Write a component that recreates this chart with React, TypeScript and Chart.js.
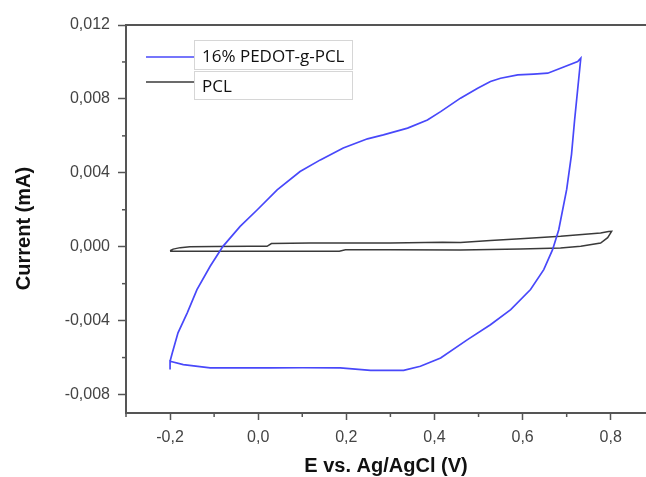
import { useEffect, useRef } from 'react';
import { Chart, registerables } from 'chart.js';

Chart.register(...registerables);

// 16% PEDOT-g-PCL cyclic voltammogram (E in V, I in mA)
const pedotE = [
  -0.2, -0.2, -0.17, -0.109, -0.05, 0.027, 0.1, 0.186, 0.255, 0.33, 0.368, 0.414, 0.475, 0.527,
  0.573, 0.618, 0.648, 0.668, 0.682, 0.7, 0.711, 0.718, 0.732,
  0.725, 0.686, 0.657, 0.625, 0.589, 0.55, 0.527, 0.498, 0.459, 0.414, 0.384, 0.339, 0.284,
  0.248, 0.193, 0.141, 0.095, 0.043, -0.002, -0.041, -0.08, -0.109, -0.139, -0.161, -0.182,
  -0.195, -0.2,
];
const pedotI = [
  -0.00665, -0.0062, -0.00638, -0.00656, -0.00656, -0.00656, -0.00655, -0.00656, -0.00669,
  -0.00669, -0.00647, -0.00602, -0.00503, -0.00422, -0.00341, -0.00232, -0.00124, -0.00016,
  0.00092, 0.0031, 0.005, 0.00686, 0.0102,
  0.01002, 0.00966, 0.00939, 0.00934, 0.0093, 0.00912, 0.00894, 0.00858, 0.00804, 0.00731,
  0.00686, 0.00642, 0.00605, 0.00584, 0.00534, 0.0047, 0.00407, 0.00308, 0.002, 0.0011,
  0.00002, -0.00106, -0.00232, -0.00358, -0.00466, -0.00575, -0.0062,
];

// PCL cyclic voltammogram
const pclE = [
  -0.2, -0.15, -0.018, 0.1, 0.184, 0.198, 0.3, 0.459, 0.595, 0.686, 0.732, 0.777, 0.793, 0.802,
  0.795, 0.777, 0.686, 0.595, 0.527, 0.459, 0.418, 0.3, 0.118, 0.03, 0.02, -0.018, -0.1, -0.155,
  -0.177, -0.193, -0.2,
];
const pclI = [
  -0.00024, -0.00025, -0.00025, -0.00025, -0.00025, -0.00017, -0.00017, -0.00018, -0.00012,
  -0.00007, 0.00002, 0.0002, 0.00049, 0.00083,
  0.00082, 0.00074, 0.00056, 0.00043, 0.00034, 0.00023, 0.00024, 0.0002, 0.0002, 0.00017,
  0.00002, 0.00002, 0.00001, 0, -0.00005, -0.00013, -0.00022,
];

const seriesLabels = ['16% PEDOT-g-PCL', 'PCL'];
const seriesColors = ['#4848fa', '#3a3a3a'];
const xMajorTicks = [-0.2, 0, 0.2, 0.4, 0.6, 0.8];
const xMinorTicks = [-0.3, -0.1, 0.1, 0.3, 0.5, 0.7];
const yMajorTicks = [-0.008, -0.004, 0, 0.004, 0.008, 0.012];
const yMinorTicks = [-0.006, -0.002, 0.002, 0.006, 0.01];
const xTitle = 'E vs. Ag/AgCl (V)';
const yTitle = 'Current (mA)';

const AXIS = '#555555';
const SANS = '"Liberation Sans", Arial, sans-serif';

const fmt = (v: number, d: number) => Number(v).toFixed(d).replace('.', ',');

const decorPlugin = {
  id: 'decor',
  afterDraw(chart: any) {
    const ctx = chart.ctx as CanvasRenderingContext2D;
    const { left, right, top, bottom } = chart.chartArea;
    const xs = chart.scales.x;
    const ys = chart.scales.y;
    ctx.save();
    // top frame line
    ctx.strokeStyle = AXIS;
    ctx.lineWidth = 2;
    ctx.beginPath();
    ctx.moveTo(left - 1, top);
    ctx.lineTo(right, top);
    ctx.stroke();
    // minor ticks
    ctx.lineWidth = 1.5;
    xMinorTicks.forEach((v) => {
      const px = xs.getPixelForValue(v);
      ctx.beginPath();
      ctx.moveTo(px, bottom);
      ctx.lineTo(px, bottom + 4);
      ctx.stroke();
    });
    yMinorTicks.forEach((v) => {
      const py = ys.getPixelForValue(v);
      ctx.beginPath();
      ctx.moveTo(left, py);
      ctx.lineTo(left - 4, py);
      ctx.stroke();
    });
    // legend
    const boxes = [
      { y: 40.5, h: 29, lineY: 57, textY: 62 },
      { y: 71.5, h: 28, lineY: 82, textY: 92 },
    ];
    boxes.forEach((b, i) => {
      ctx.strokeStyle = '#d6d6d6';
      ctx.lineWidth = 1;
      ctx.strokeRect(194.5, b.y, 158, b.h);
      ctx.strokeStyle = seriesColors[i];
      ctx.lineWidth = 1.6;
      ctx.beginPath();
      ctx.moveTo(146, b.lineY);
      ctx.lineTo(194, b.lineY);
      ctx.stroke();
      ctx.fillStyle = '#111';
      ctx.font = '17px "Open Sans", sans-serif';
      ctx.textAlign = 'left';
      ctx.textBaseline = 'alphabetic';
      ctx.fillText(seriesLabels[i], 202, b.textY);
    });
    // y axis title
    ctx.translate(24, 228.5);
    ctx.rotate(-Math.PI / 2);
    ctx.font = 'bold 20px ' + SANS;
    ctx.fillStyle = '#111';
    ctx.textAlign = 'center';
    ctx.textBaseline = 'middle';
    ctx.fillText(yTitle, 0, 0);
    ctx.restore();
  },
};

export default function App() {
  const canvasRef = useRef<HTMLCanvasElement | null>(null);

  useEffect(() => {
    if (!canvasRef.current) return;
    const chart = new Chart(canvasRef.current, {
      type: 'scatter',
      data: {
        datasets: [
          {
            label: seriesLabels[0],
            data: pedotE.map((x, i) => ({ x, y: pedotI[i] })),
            showLine: true,
            borderColor: seriesColors[0],
            borderWidth: 1.7,
            pointRadius: 0,
            tension: 0,
          },
          {
            label: seriesLabels[1],
            data: pclE.map((x, i) => ({ x, y: pclI[i] })),
            showLine: true,
            borderColor: seriesColors[1],
            borderWidth: 1.5,
            pointRadius: 0,
            tension: 0,
          },
        ],
      },
      options: {
        responsive: false,
        devicePixelRatio: 1,
        animation: false,
        layout: { padding: { left: 0, top: 25, right: 0, bottom: 0 } },
        plugins: { legend: { display: false }, tooltip: { enabled: false } },
        scales: {
          x: {
            type: 'linear',
            min: -0.3,
            max: 0.88,
            afterBuildTicks: (s: any) => {
              s.ticks = xMajorTicks.map((value) => ({ value }));
            },
            afterFit: (s: any) => {
              s.height = 64;
            },
            ticks: {
              callback: (v: any) => fmt(v, 1),
              font: { family: SANS, size: 16 },
              color: '#444',
              padding: 8,
              maxRotation: 0,
              autoSkip: false,
            },
            grid: {
              drawOnChartArea: false,
              drawTicks: true,
              tickLength: 7,
              tickColor: AXIS,
              tickWidth: 1.5,
            },
            border: { display: true, color: AXIS, width: 2 },
            title: {
              display: true,
              text: xTitle,
              color: '#111',
              font: { family: SANS, size: 20, weight: 'bold', lineHeight: 1 },
              padding: { top: 0, bottom: 1 },
            },
          },
          y: {
            type: 'linear',
            min: -0.009,
            max: 0.012,
            afterBuildTicks: (s: any) => {
              s.ticks = yMajorTicks.map((value) => ({ value }));
            },
            afterFit: (s: any) => {
              s.width = 126;
            },
            ticks: {
              callback: (v: any) => fmt(v, 3),
              font: { family: SANS, size: 16 },
              color: '#444',
              padding: 8,
              autoSkip: false,
            },
            grid: {
              drawOnChartArea: false,
              drawTicks: true,
              tickLength: 8,
              tickColor: AXIS,
              tickWidth: 1.5,
            },
            border: { display: true, color: AXIS, width: 2 },
          },
        },
      } as any,
      plugins: [decorPlugin],
    });
    return () => chart.destroy();
  }, []);

  return (
    <div style={{ position: 'fixed', left: 0, top: 0, width: 646, height: 477, background: '#fff' }}>
      <canvas ref={canvasRef} width={646} height={477} style={{ display: 'block' }} />
    </div>
  );
}
